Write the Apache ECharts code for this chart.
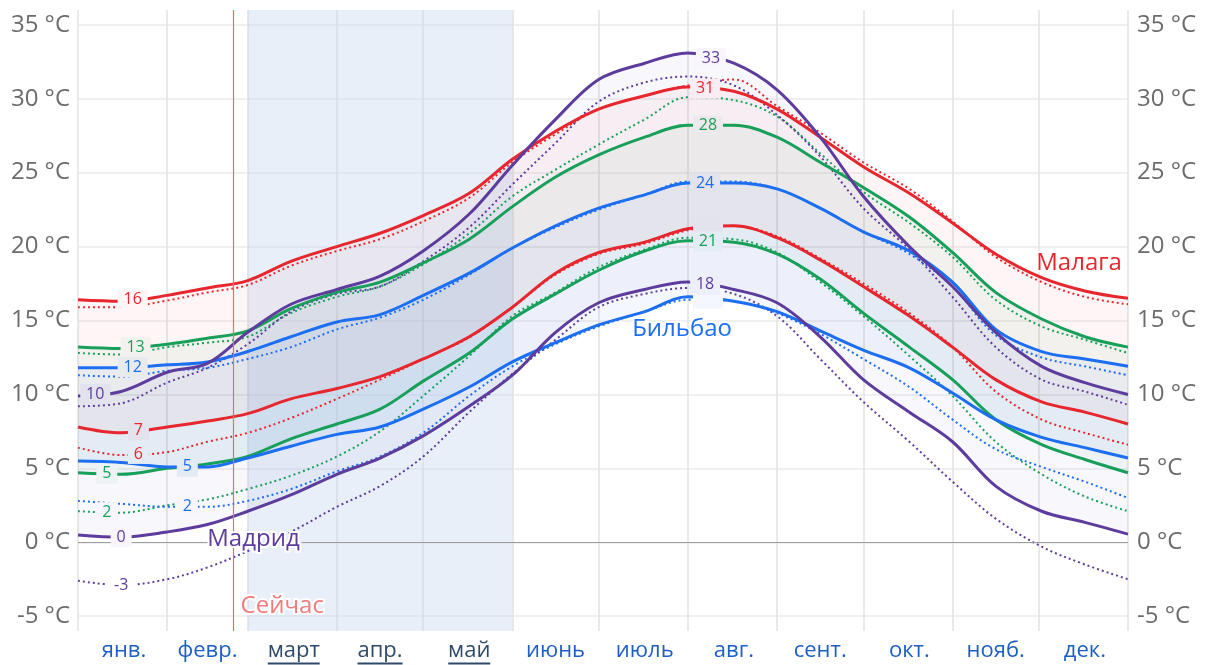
<!DOCTYPE html>
<html>
<head>
<meta charset="utf-8">
<script src="https://cdn.jsdelivr.net/npm/echarts@6/dist/echarts.min.js"></script>
<style>
  html, body { margin: 0; padding: 0; background: #fff; }
  #chart { width: 1207px; height: 665px; }
</style>
</head>
<body>
<div id="chart"></div>
<script>
// day of year for each reading
const days = [0, 15, 31, 45, 59, 74, 90, 105, 120, 136, 151, 166, 181, 197, 212, 228, 243, 258, 273, 289, 304, 319, 335, 350, 365];

const monthNames = ['янв.', 'февр.', 'март', 'апр.', 'май', 'июнь', 'июль', 'авг.', 'сент.', 'окт.', 'нояб.', 'дек.'];
const monthStarts = [0, 31, 59, 90, 120, 151, 181, 212, 243, 273, 304, 334, 365];
const highlightMonths = [2, 3, 4];
const yTicks = [-5, 0, 5, 10, 15, 20, 25, 30, 35];
const today = 54;

// Малага
const malagaHigh = [16.4, 16.3, 16.7, 17.2, 17.7, 19.0, 20.0, 20.9, 22.1, 23.6, 25.9, 27.8, 29.3, 30.2, 30.8, 30.5, 29.3, 27.4, 25.4, 23.6, 21.6, 19.5, 17.9, 17.0, 16.5];
const malagaHighFeel = [15.9, 15.9, 16.35, 16.9, 17.4, 18.7, 19.7, 20.5, 21.7, 23.3, 25.7, 27.6, 29.3, 30.2, 30.9, 31.3, 29.5, 27.7, 25.7, 23.9, 21.7, 19.3, 17.6, 16.6, 16.1];
const malagaLow = [7.8, 7.4, 7.8, 8.2, 8.7, 9.7, 10.4, 11.2, 12.4, 13.9, 15.9, 18.2, 19.6, 20.3, 21.2, 21.4, 20.6, 19.1, 17.3, 15.3, 13.2, 11.0, 9.5, 8.8, 8.0];
const malagaLowFeel = [6.4, 5.9, 6.1, 6.8, 7.4, 8.4, 9.7, 11.0, 12.4, 13.85, 15.9, 18.1, 19.5, 20.2, 21.1, 21.4, 20.7, 19.2, 17.5, 15.5, 13.2, 10.2, 8.3, 7.4, 6.6];

// green city
const greenHigh = [13.2, 13.1, 13.4, 13.8, 14.3, 15.8, 16.9, 17.6, 18.9, 20.5, 22.7, 24.7, 26.2, 27.4, 28.2, 28.2, 27.4, 25.7, 24.0, 22.0, 19.6, 16.9, 15.1, 13.9, 13.2];
const greenHighFeel = [12.8, 12.7, 13.2, 13.5, 13.9, 15.5, 16.6, 17.3, 18.8, 20.9, 23.4, 25.2, 26.9, 28.6, 30.1, 29.9, 28.8, 26.3, 23.7, 21.6, 19.3, 16.4, 14.6, 13.7, 12.8];
const greenLow = [4.7, 4.6, 5.0, 5.3, 5.8, 7.0, 8.0, 9.0, 10.9, 12.8, 15.1, 16.8, 18.4, 19.7, 20.4, 20.3, 19.5, 17.8, 15.5, 13.2, 11.0, 8.3, 6.6, 5.6, 4.7];
const greenLowFeel = [2.1, 2.0, 2.5, 2.9, 3.6, 4.5, 5.8, 7.5, 9.9, 12.6, 15.3, 16.9, 18.6, 19.8, 20.6, 20.5, 19.6, 17.6, 15.3, 12.6, 9.9, 6.8, 4.6, 3.1, 2.1];

// Бильбао
const bilbaoHigh = [11.8, 11.8, 12.0, 12.2, 12.9, 13.9, 14.9, 15.4, 16.7, 18.2, 19.9, 21.4, 22.6, 23.5, 24.3, 24.3, 23.9, 22.6, 21.0, 19.7, 17.6, 14.4, 12.9, 12.4, 11.9];
const bilbaoHighFeel = [11.3, 11.2, 11.6, 11.8, 12.4, 13.2, 14.4, 15.2, 16.4, 18.1, 19.9, 21.3, 22.5, 23.5, 24.4, 24.4, 23.9, 22.6, 21.0, 19.5, 17.3, 14.0, 12.5, 11.9, 11.3];
const bilbaoLow = [5.5, 5.4, 5.1, 5.1, 5.7, 6.5, 7.3, 7.8, 9.0, 10.5, 12.2, 13.5, 14.7, 15.6, 16.6, 16.3, 15.6, 14.3, 13.0, 11.8, 10.1, 8.3, 7.1, 6.4, 5.7];
const bilbaoLowFeel = [2.8, 2.6, 2.4, 2.4, 2.8, 3.6, 4.8, 5.8, 7.4, 9.9, 11.9, 13.4, 14.6, 15.6, 16.4, 16.3, 15.5, 14.1, 12.4, 10.5, 8.3, 6.3, 5.1, 4.1, 3.0];

// Мадрид
const madridHigh = [9.9, 10.2, 11.5, 12.1, 14.2, 16.1, 17.1, 18.0, 19.7, 22.2, 25.5, 28.6, 31.3, 32.4, 33.1, 32.4, 30.6, 27.4, 23.4, 20.0, 17.3, 14.2, 11.9, 10.8, 10.0];
const madridHighFeel = [9.2, 9.4, 10.8, 11.8, 13.4, 15.6, 16.8, 17.3, 19.0, 21.3, 24.2, 27.0, 29.8, 31.1, 31.5, 30.9, 28.9, 26.1, 22.6, 19.8, 16.6, 13.2, 11.0, 10.2, 9.3];
const madridLow = [0.5, 0.35, 0.7, 1.2, 2.1, 3.2, 4.6, 5.7, 7.2, 9.2, 11.3, 14.2, 16.2, 17.1, 17.6, 17.1, 16.2, 13.9, 11.0, 8.8, 6.8, 3.8, 2.1, 1.35, 0.55];
const madridLowFeel = [-2.6, -2.9, -2.5, -1.7, -0.6, 0.7, 2.4, 3.8, 5.8, 8.8, 11.4, 13.7, 15.9, 16.8, 17.2, 16.8, 15.3, 12.4, 9.5, 6.8, 4.1, 1.6, -0.3, -1.5, -2.5];

// value labels written on the lines: [day, text]
const malagaHighMarks = [[19, '16'], [218, '31']];
const malagaLowMarks = [[21, '7'], [219, '']];
const malagaLowFeelMarks = [[21, '6']];
const greenHighMarks = [[20, '13'], [219, '28']];
const greenLowMarks = [[10, '5'], [219, '21']];
const greenLowFeelMarks = [[10, '2']];
const bilbaoHighMarks = [[19, '12'], [218, '24']];
const bilbaoLowMarks = [[38, '5'], [219, '']];
const bilbaoLowFeelMarks = [[38, '2']];
const madridHighMarks = [[6, '10'], [220, '33']];
const madridLowMarks = [[15, '0'], [218, '18']];
const madridLowFeelMarks = [[15, '-3']];

const FONT = '"Open Sans", "Noto Sans", sans-serif';
const RED = '#e8262d';
const GREEN = '#18a05a';
const BLUE = '#1c6ef2';
const PURPLE = '#5e3c9e';

// band tints [r, g, b, alpha]
const SPRING_TINT = [200, 218, 240, 0.42];
const bandDefs = [
    { id: 'malaga', low: malagaLow, high: malagaHigh, tint: [240, 50, 50, 0.045] },
    { id: 'green', low: greenLow, high: greenHigh, tint: [30, 160, 90, 0.05] },
    { id: 'bilbao', low: bilbaoLow, high: bilbaoHigh, tint: [30, 110, 240, 0.05] },
    { id: 'madrid', low: madridLow, high: madridHigh, tint: [95, 60, 190, 0.045] }
];

// one category per day so that stacking lines up by day
const dayCategories = [];
for (let d = 0; d <= 365; d++) dayCategories.push(String(d));
const monthMids = monthNames.map((m, i) => Math.round((monthStarts[i] + monthStarts[i + 1]) / 2));

const measure = document.createElement('canvas').getContext('2d');
measure.font = '22px "Open Sans"';

function rgba(t) {
    return 'rgba(' + t[0] + ',' + t[1] + ',' + t[2] + ',' + t[3] + ')';
}

function pairs(values) {
    return values.map((v, i) => [days[i], v]);
}

function interp(values, d) {
    for (let i = 0; i < days.length - 1; i++) {
        if (d >= days[i] && d <= days[i + 1]) {
            const t = (d - days[i]) / (days[i + 1] - days[i]);
            return values[i] + t * (values[i + 1] - values[i]);
        }
    }
    return values[values.length - 1];
}

// colour behind a label: the tints that overlap there, laid over white
function backdrop(d, v) {
    let c = [255, 255, 255];
    const layers = [];
    if (d >= monthStarts[2] && d <= monthStarts[5]) layers.push(SPRING_TINT);
    bandDefs.forEach(b => {
        if (v >= interp(b.low, d) - 0.3 && v <= interp(b.high, d) + 0.3) layers.push(b.tint);
    });
    layers.forEach(t => {
        c = c.map((ch, k) => ch * (1 - t[3]) + t[k] * t[3]);
    });
    return 'rgb(' + c.map(Math.round).join(',') + ')';
}

function band(b, extra) {
    const base = {
        type: 'line', name: b.id + '-base', stack: b.id, data: pairs(b.low),
        smooth: 0.35, symbol: 'none', silent: true, z: 1,
        lineStyle: { opacity: 0 }
    };
    Object.assign(base, extra || {});
    const top = {
        type: 'line', name: b.id + '-band', stack: b.id, data: pairs(b.high.map((h, i) => h - b.low[i])),
        smooth: 0.35, symbol: 'none', silent: true, z: 1,
        lineStyle: { opacity: 0 },
        areaStyle: { color: rgba(b.tint), opacity: 1 }
    };
    return [base, top];
}

function line(values, color, dotted, marks) {
    return {
        type: 'line',
        data: pairs(values),
        smooth: 0.35,
        symbol: 'none',
        silent: true,
        z: dotted ? 2 : 3,
        lineStyle: { color: color, width: dotted ? 2 : 3, type: dotted ? [2, 3] : 'solid' },
        markPoint: marks ? {
            silent: true,
            symbol: 'rect',
            label: { show: true, position: 'inside', color: color, fontSize: 16, fontFamily: FONT, formatter: '{b}' },
            data: marks.map(([d, text]) => {
                const v = interp(values, d);
                return {
                    name: text,
                    coord: [d, v],
                    symbolSize: [text.length ? 12 + text.length * 9 : 30, 20],
                    itemStyle: { color: backdrop(d, v) }
                };
            })
        } : undefined
    };
}

function textMark(name, coord, color) {
    return {
        name: name, coord: coord, symbol: 'circle', symbolSize: 0,
        label: {
            show: true, position: 'inside', formatter: '{b}', color: color,
            fontSize: 24, fontFamily: FONT, textBorderColor: '#fff', textBorderWidth: 4
        }
    };
}

const rich = {
    m: { color: '#1d5fc4', fontSize: 22, fontFamily: FONT, lineHeight: 22 },
    h: { color: '#2f4a69', fontSize: 22, fontFamily: FONT, lineHeight: 22 }
};
highlightMonths.forEach(i => {
    rich['u' + i] = { width: Math.round(measure.measureText(monthNames[i]).width), height: 2, lineHeight: 3, backgroundColor: '#2f4a69' };
});

const chart = echarts.init(document.getElementById('chart'));
chart.setOption({
    animation: false,
    grid: { left: 78, right: 79, top: 10, bottom: 34, outerBoundsMode: 'none', containLabel: false },
    xAxis: {
        type: 'category', data: dayCategories, boundaryGap: false,
        axisLine: { show: false },
        axisTick: { show: false },
        splitLine: {
            show: true,
            interval: (index) => monthStarts.includes(index),
            lineStyle: { color: '#e2e2e2', width: 1.5 }
        },
        axisLabel: {
            interval: (index) => monthMids.includes(index),
            margin: 9,
            formatter: function (value) {
                const i = monthMids.indexOf(Number(value));
                if (i < 0) return '';
                if (highlightMonths.includes(i)) {
                    return '{h|' + monthNames[i] + '}\n{u' + i + '| }';
                }
                return '{m|' + monthNames[i] + '}';
            },
            rich: rich
        }
    },
    yAxis: [
        {
            type: 'value', min: -6, max: 36, position: 'left',
            axisLine: { show: false },
            axisTick: { show: false, customValues: yTicks },
            splitLine: { show: true, lineStyle: { color: '#ebebeb', width: 1.5 } },
            axisLabel: { customValues: yTicks, formatter: v => v + ' °C', color: '#6b6b6b', fontSize: 24, fontFamily: FONT, margin: 8 }
        },
        {
            type: 'value', min: -6, max: 36, position: 'right',
            axisLine: { show: false },
            axisTick: { show: false, customValues: yTicks },
            splitLine: { show: false },
            axisLabel: { customValues: yTicks, formatter: v => v + ' °C', color: '#6b6b6b', fontSize: 24, fontFamily: FONT, margin: 9 }
        }
    ],
    series: [
        ...band(bandDefs[0], {
            markArea: {
                silent: true,
                itemStyle: { color: rgba(SPRING_TINT) },
                data: [[{ xAxis: monthStarts[2] }, { xAxis: monthStarts[5] }]]
            },
            markLine: {
                silent: true, symbol: 'none',
                label: { show: false },
                data: [
                    { yAxis: 0, lineStyle: { color: '#9e9e9e', width: 1.2, type: 'solid' } },
                    { xAxis: today, lineStyle: { color: '#f26a6a', width: 1.2, type: 'solid' } }
                ]
            },
            markPoint: { silent: true, data: [textMark('Малага', [348, 18.9], RED)] }
        }),
        ...band(bandDefs[1]),
        ...band(bandDefs[2], {
            markPoint: { silent: true, data: [textMark('Бильбао', [210, 14.4], BLUE)] }
        }),
        ...band(bandDefs[3], {
            markPoint: {
                silent: true,
                data: [textMark('Мадрид', [61, 0.2], PURPLE), textMark('Сейчас', [71, -4.3], '#f27c7c')]
            }
        }),
        line(malagaHighFeel, RED, true),
        line(malagaLowFeel, RED, true, malagaLowFeelMarks),
        line(greenHighFeel, GREEN, true),
        line(greenLowFeel, GREEN, true, greenLowFeelMarks),
        line(bilbaoHighFeel, BLUE, true),
        line(bilbaoLowFeel, BLUE, true, bilbaoLowFeelMarks),
        line(madridHighFeel, PURPLE, true),
        line(madridLowFeel, PURPLE, true, madridLowFeelMarks),
        line(malagaHigh, RED, false, malagaHighMarks),
        line(malagaLow, RED, false, malagaLowMarks),
        line(greenHigh, GREEN, false, greenHighMarks),
        line(greenLow, GREEN, false, greenLowMarks),
        line(bilbaoHigh, BLUE, false, bilbaoHighMarks),
        line(bilbaoLow, BLUE, false, bilbaoLowMarks),
        line(madridHigh, PURPLE, false, madridHighMarks),
        line(madridLow, PURPLE, false, madridLowMarks)
    ]
});
</script>
</body>
</html>
